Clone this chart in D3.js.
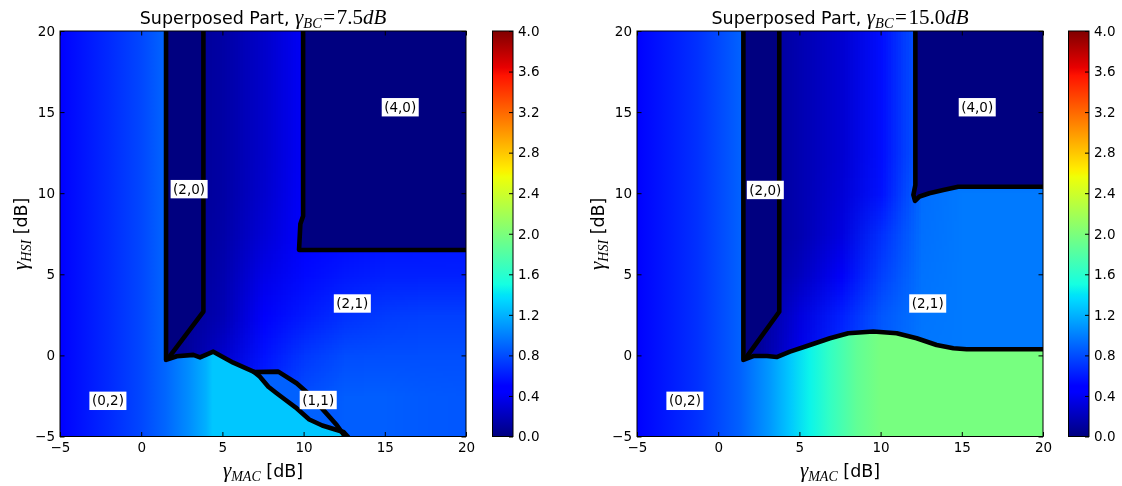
<!DOCTYPE html>
<html>
<head>
<meta charset="utf-8">
<script src="https://cdn.jsdelivr.net/npm/d3@7/dist/d3.min.js"></script>
<style>
html,body{margin:0;padding:0;background:#fff;}
#wrap{position:relative;width:1122px;height:486px;overflow:hidden;}
#wrap canvas,#wrap svg{position:absolute;left:0;top:0;}
text{white-space:pre;}
</style>
</head>
<body>
<div id="wrap"></div>
<script>
// ================= DATA =================
const xDomain = [-5, 20];
const yDomain = [-5, 20];
const axisTicks = [-5, 0, 5, 10, 15, 20];
const colorDomain = [0, 4];
const colorTicks = [0, 0.4, 0.8, 1.2, 1.6, 2.0, 2.4, 2.8, 3.2, 3.6, 4.0];
const gammaBC = ["7.5", "15.0"];
const navyValue = 0.0;      // value of regions (2,0) and (4,0)
const sliverValue = 0.88;   // value of region (1,1), left panel

// ---- left panel, gamma_BC = 7.5 dB ----
// region (0,2): value as a function of gamma_MAC
const a_bgX = [-5, -2, 0, 1.5, 3, 4, 4.4, 20];
const a_bgV = [0.45, 0.66, 0.78, 0.9, 1.06, 1.19, 1.28, 1.28];
// region (2,1): sampled values
const a_gridX = [2.5, 5, 7.5, 10, 12.5, 15, 17.5, 20];
const a_gridY = [20, 17.5, 15, 12.5, 10, 7.5, 5, 2.5, 0, -2.5, -5];
const a_gridV = [
  [0.06, 0.13, 0.26, 0.42, 0.45, 0.47, 0.48, 0.49],
  [0.06, 0.13, 0.26, 0.42, 0.45, 0.47, 0.48, 0.49],
  [0.06, 0.13, 0.26, 0.42, 0.45, 0.47, 0.48, 0.49],
  [0.06, 0.13, 0.26, 0.42, 0.45, 0.47, 0.48, 0.49],
  [0.06, 0.13, 0.27, 0.43, 0.48, 0.50, 0.51, 0.52],
  [0.06, 0.14, 0.30, 0.47, 0.53, 0.56, 0.57, 0.58],
  [0.06, 0.16, 0.36, 0.53, 0.59, 0.62, 0.62, 0.62],
  [0.07, 0.18, 0.43, 0.60, 0.69, 0.73, 0.75, 0.75],
  [0.08, 0.27, 0.57, 0.72, 0.80, 0.81, 0.81, 0.81],
  [0.10, 0.40, 0.65, 0.80, 0.87, 0.87, 0.85, 0.84],
  [0.10, 0.45, 0.70, 0.84, 0.87, 0.87, 0.85, 0.84]
];
// boundaries
const a_wall = [[1.53, 20], [1.53, -0.28]];
const a_edge20 = [[3.83, 20], [3.83, 2.7], [1.67, -0.17]];
const a_edge40 = [[9.97, 20], [9.97, 8.6], [9.8, 8.1], [9.72, 6.5], [20, 6.5]];
const a_curve = [[1.53, -0.28], [2.19, -0.05], [3.21, 0.03], [3.62, -0.12], [4.44, 0.23], [5.67, -0.45], [6.95, -1.02]];
const a_upper = [[6.95, -1.02], [8.44, -1.0], [9.57, -1.72], [10.39, -2.44], [11.21, -3.36], [12.04, -4.29], [12.55, -5]];
const a_lower = [[6.95, -1.02], [7.31, -1.31], [7.83, -1.93], [8.34, -2.33], [8.75, -2.64], [9.5, -3.2], [10.35, -3.95], [11.15, -4.32], [11.9, -4.55], [12.45, -4.72], [12.72, -5]];
const a_labelText = ["(2,0)", "(4,0)", "(2,1)", "(1,1)", "(0,2)"];
const a_labelX = [2.95, 15.95, 13.0, 10.9, -2.05];
const a_labelY = [10.25, 15.3, 3.2, -2.75, -2.8];

// ---- right panel, gamma_BC = 15.0 dB ----
const b_bgX = [-5, -1.3, 1.35, 3.2, 4.4, 5.65, 6.9, 8.55, 10, 20];
const b_bgV = [0.45, 0.69, 0.88, 1.1, 1.28, 1.46, 1.65, 1.87, 1.98, 1.98];
const b_gridX = [2.5, 5, 7.5, 10, 12.5, 15, 17.5, 20];
const b_gridY = [20, 17.5, 15, 12.5, 10, 7.5, 5, 2.5, 0, -2.5];
const b_gridV = [
  [0.06, 0.17, 0.28, 0.55, 0.88, 0.90, 0.90, 0.90],
  [0.06, 0.17, 0.28, 0.55, 0.88, 0.90, 0.90, 0.90],
  [0.06, 0.17, 0.28, 0.55, 0.88, 0.90, 0.90, 0.90],
  [0.06, 0.17, 0.28, 0.55, 0.88, 0.90, 0.90, 0.90],
  [0.06, 0.17, 0.30, 0.57, 0.93, 0.98, 0.98, 0.98],
  [0.06, 0.17, 0.33, 0.69, 0.94, 0.98, 0.98, 0.98],
  [0.07, 0.22, 0.42, 0.75, 0.95, 0.98, 0.98, 0.98],
  [0.08, 0.33, 0.62, 0.84, 0.96, 0.98, 0.98, 0.98],
  [0.10, 0.38, 0.68, 0.86, 0.97, 0.98, 0.98, 0.98],
  [0.10, 0.40, 0.70, 0.86, 0.97, 0.98, 0.98, 0.98]
];
const b_wall = [[1.55, 20], [1.55, -0.28]];
const b_edge20 = [[3.76, 20], [3.76, 2.69], [1.75, -0.09]];
const b_edge40 = [[12.14, 20], [12.14, 10.5], [12.02, 9.9], [12.12, 9.52], [12.4, 9.8], [13.0, 10.0], [13.86, 10.2], [14.78, 10.4], [20, 10.4]];
const b_curve = [[1.55, -0.28], [2.16, -0.04], [3.0, -0.04], [3.6, -0.1], [4.42, 0.23], [5.65, 0.64], [6.88, 1.06], [8.01, 1.37], [9.55, 1.47], [10.99, 1.37], [12.22, 1.06], [13.45, 0.64], [14.48, 0.44], [15.3, 0.38], [20, 0.38]];
const b_labelText = ["(2,0)", "(4,0)", "(2,1)", "(0,2)"];
const b_labelX = [2.9, 15.95, 12.9, -2.05];
const b_labelY = [10.2, 15.3, 3.2, -2.8];

// ================= COLORMAP (matplotlib "jet") =================
const jetR = d3.scaleLinear().domain([0, 0.35, 0.66, 0.89, 1]).range([0, 0, 1, 1, 0.5]).clamp(true);
const jetG = d3.scaleLinear().domain([0, 0.125, 0.375, 0.64, 0.91, 1]).range([0, 0, 1, 1, 0, 0]).clamp(true);
const jetB = d3.scaleLinear().domain([0, 0.11, 0.34, 0.65, 1]).range([0.5, 1, 1, 0, 0]).clamp(true);
const cNorm = d3.scaleLinear().domain(colorDomain).range([0, 1]).clamp(true);
function jetT(t) { return d3.rgb(Math.round(255 * jetR(t)), Math.round(255 * jetG(t)), Math.round(255 * jetB(t))); }
function jet(v) { return jetT(cNorm(v)); }
const jetBreaks = [0, 0.11, 0.125, 0.34, 0.35, 0.375, 0.64, 0.65, 0.66, 0.89, 0.91, 1];

// ================= PANELS =================
const panels = [
  {
    L: {left: 60, right: 466, top: 31, bottom: 436.5, cbL: 492.5, cbR: 513},
    title: gammaBC[0], bgX: a_bgX, bgV: a_bgV, gridX: a_gridX, gridY: a_gridY, gridV: a_gridV,
    region20: [a_wall[0], ...a_edge20, a_wall[1]],
    region40: [...a_edge40, [20, 20]],
    field: [a_wall[0], [20, 20], [20, -5], ...a_upper.slice().reverse(), ...a_curve.slice().reverse()],
    sliver: [...a_upper, ...a_lower.slice().reverse()],
    lines: [[a_wall[0], ...a_curve, ...a_upper.slice(1)], a_lower, a_edge20, a_edge40],
    labels: a_labelText.map((t, i) => ({t, x: a_labelX[i], y: a_labelY[i]}))
  },
  {
    L: {left: 637, right: 1043, top: 31, bottom: 436.5, cbL: 1068.5, cbR: 1089},
    title: gammaBC[1], bgX: b_bgX, bgV: b_bgV, gridX: b_gridX, gridY: b_gridY, gridV: b_gridV,
    region20: [b_wall[0], ...b_edge20, b_wall[1]],
    region40: [...b_edge40, [20, 20]],
    field: [b_wall[0], [20, 20], ...b_curve.slice().reverse()],
    sliver: null,
    lines: [[b_wall[0], ...b_curve], b_edge20, b_edge40],
    labels: b_labelText.map((t, i) => ({t, x: b_labelX[i], y: b_labelY[i]}))
  }
];

const W = 1122, H = 486;
const FONT = "'DejaVu Sans', sans-serif";
const MATH = "'Liberation Serif', 'DejaVu Serif', serif";
const wrap = d3.select("#wrap");
const canvas = wrap.append("canvas").attr("width", W).attr("height", H).node();
const ctx = canvas.getContext("2d");
const svg = wrap.append("svg").attr("width", W).attr("height", H);
const defs = svg.append("defs");

const tickFmt = d => (d < 0 ? "\u2212" + Math.abs(d) : String(d));

panels.forEach((p, idx) => {
  const L = p.L;
  const x = d3.scaleLinear().domain(xDomain).range([L.left, L.right]);
  const y = d3.scaleLinear().domain(yDomain).range([L.bottom, L.top]);
  const path = d3.line().x(d => x(d[0])).y(d => y(d[1])).context(ctx);

  // ---------- heat map (canvas) ----------
  ctx.save();
  ctx.beginPath();
  ctx.rect(L.left, L.top, L.right - L.left, L.bottom - L.top);
  ctx.clip();

  // region (0,2) : gradient along gamma_MAC
  const grad = ctx.createLinearGradient(x(xDomain[0]), 0, x(xDomain[1]), 0);
  p.bgX.forEach((xv, i) => grad.addColorStop((xv - xDomain[0]) / (xDomain[1] - xDomain[0]), jet(p.bgV[i]).toString()));
  ctx.fillStyle = grad;
  ctx.fillRect(L.left, L.top, L.right - L.left, L.bottom - L.top);

  // region (2,1) : sampled field
  const small = document.createElement("canvas");
  small.width = p.gridX.length;
  small.height = p.gridY.length;
  const sctx = small.getContext("2d");
  const img = sctx.createImageData(small.width, small.height);
  p.gridV.forEach((row, j) => row.forEach((v, i) => {
    const c = jet(v), k = 4 * (j * small.width + i);
    img.data[k] = c.r; img.data[k + 1] = c.g; img.data[k + 2] = c.b; img.data[k + 3] = 255;
  }));
  sctx.putImageData(img, 0, 0);
  const dx = p.gridX[1] - p.gridX[0], dy = p.gridY[0] - p.gridY[1];
  const ix0 = x(p.gridX[0] - dx / 2), ix1 = x(p.gridX[p.gridX.length - 1] + dx / 2);
  const iy0 = y(p.gridY[0] + dy / 2), iy1 = y(p.gridY[p.gridY.length - 1] - dy / 2);
  ctx.save();
  ctx.beginPath(); path(p.field); ctx.closePath(); ctx.clip();
  ctx.imageSmoothingEnabled = true;
  ctx.imageSmoothingQuality = "low";
  ctx.drawImage(small, ix0, iy0, ix1 - ix0, iy1 - iy0);
  ctx.restore();

  // region (1,1)
  if (p.sliver) {
    ctx.beginPath(); path(p.sliver); ctx.closePath();
    ctx.fillStyle = jet(sliverValue).toString(); ctx.fill();
  }
  // regions (2,0) and (4,0)
  [p.region20, p.region40].forEach(r => {
    ctx.beginPath(); path(r); ctx.closePath();
    ctx.fillStyle = jet(navyValue).toString(); ctx.fill();
  });
  // boundaries
  ctx.strokeStyle = "#000";
  ctx.lineWidth = 4.6;
  ctx.lineJoin = "round";
  ctx.lineCap = "round";
  p.lines.forEach(l => { ctx.beginPath(); path(l); ctx.stroke(); });
  ctx.restore();

  // ---------- axes (svg) ----------
  const g = svg.append("g");
  const styleAxis = sel => {
    sel.select(".domain").remove();
    sel.selectAll(".tick line").attr("stroke", "#000").attr("stroke-width", 1);
    sel.selectAll("text").attr("font-family", FONT).attr("font-size", 13.5).attr("fill", "#000");
  };
  g.append("g").attr("transform", `translate(0,${L.bottom})`)
    .call(d3.axisBottom(x).tickValues(axisTicks).tickSize(-4.5).tickPadding(5.5).tickFormat(tickFmt)).call(styleAxis);
  g.append("g").attr("transform", `translate(0,${L.top})`)
    .call(d3.axisTop(x).tickValues(axisTicks).tickSize(-4.5).tickFormat("")).call(styleAxis);
  g.append("g").attr("transform", `translate(${L.left},0)`)
    .call(d3.axisLeft(y).tickValues(axisTicks).tickSize(-4.5).tickPadding(5).tickFormat(tickFmt)).call(styleAxis);
  g.append("g").attr("transform", `translate(${L.right},0)`)
    .call(d3.axisRight(y).tickValues(axisTicks).tickSize(-4.5).tickFormat("")).call(styleAxis);
  g.append("rect").attr("x", L.left).attr("y", L.top).attr("width", L.right - L.left).attr("height", L.bottom - L.top)
    .attr("fill", "none").attr("stroke", "#000").attr("stroke-width", 1);

  // region labels
  p.labels.forEach(lb => {
    const cx = x(lb.x), cy = y(lb.y);
    const lg = g.append("g");
    const r = lg.append("rect").attr("fill", "#fff");
    const t = lg.append("text").attr("x", cx).attr("y", cy + 4.6).attr("text-anchor", "middle")
      .attr("font-family", FONT).attr("font-size", 13.5).attr("fill", "#000").text(lb.t);
    const w = t.node().getComputedTextLength() + 5;
    r.attr("x", cx - w / 2).attr("y", cy - 9.2).attr("width", w).attr("height", 18.4);
  });

  // title
  const cxT = (L.left + L.right) / 2;
  const tt = svg.append("text").attr("x", cxT).attr("y", 24).attr("text-anchor", "middle")
    .attr("font-family", FONT).attr("font-size", 17.5).attr("fill", "#000");
  tt.append("tspan").text("Superposed Part, ");
  tt.append("tspan").attr("font-family", MATH).attr("font-style", "italic").attr("font-size", 21).text("\u03b3");
  tt.append("tspan").attr("font-family", MATH).attr("font-style", "italic").attr("font-size", 14.5).attr("dy", 4).text("BC");
  tt.append("tspan").attr("font-family", MATH).attr("font-size", 21).attr("dy", -4).attr("dx", 1.5).text("=");
  tt.append("tspan").attr("font-family", MATH).attr("font-size", 21).attr("dx", 1.5).text(p.title);
  tt.append("tspan").attr("font-family", MATH).attr("font-style", "italic").attr("font-size", 21).text("dB");

  // x label
  const xl = svg.append("text").attr("x", cxT).attr("y", 477).attr("text-anchor", "middle")
    .attr("font-family", FONT).attr("font-size", 17.5).attr("fill", "#000");
  xl.append("tspan").attr("font-family", MATH).attr("font-style", "italic").attr("font-size", 21).text("\u03b3");
  xl.append("tspan").attr("font-family", MATH).attr("font-style", "italic").attr("font-size", 14).attr("dy", 4).text("MAC");
  xl.append("tspan").attr("dy", -4).text(" [dB]");

  // y label
  const cyL = (L.top + L.bottom) / 2;
  const yl = svg.append("text").attr("transform", `translate(${L.left - 33},${cyL}) rotate(-90)`).attr("text-anchor", "middle")
    .attr("font-family", FONT).attr("font-size", 17.5).attr("fill", "#000");
  yl.append("tspan").attr("font-family", MATH).attr("font-style", "italic").attr("font-size", 21).text("\u03b3");
  yl.append("tspan").attr("font-family", MATH).attr("font-style", "italic").attr("font-size", 14).attr("dy", 4).text("HSI");
  yl.append("tspan").attr("dy", -4).text(" [dB]");

  // ---------- colorbar ----------
  const gid = "jetgrad" + idx;
  const lg = defs.append("linearGradient").attr("id", gid).attr("x1", 0).attr("y1", 1).attr("x2", 0).attr("y2", 0);
  jetBreaks.forEach(t => lg.append("stop").attr("offset", t).attr("stop-color", jetT(t).toString()));
  const cb = d3.scaleLinear().domain(colorDomain).range([L.bottom, L.top]);
  svg.append("rect").attr("x", L.cbL).attr("y", L.top).attr("width", L.cbR - L.cbL).attr("height", L.bottom - L.top)
    .attr("fill", `url(#${gid})`).attr("stroke", "#000").attr("stroke-width", 1);
  svg.append("g").attr("transform", `translate(${L.cbR},0)`)
    .call(d3.axisRight(cb).tickValues(colorTicks).tickSize(-4).tickPadding(5).tickFormat(d3.format(".1f"))).call(styleAxis);
});
</script>
</body>
</html>
